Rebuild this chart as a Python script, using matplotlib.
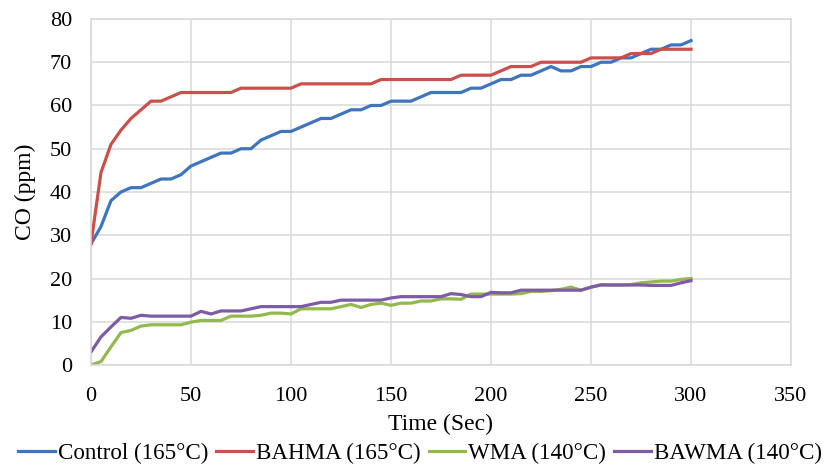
import matplotlib

matplotlib.use("Agg")
import matplotlib.pyplot as plt
import numpy as np

plt.rcParams["font.family"] = ["Liberation Serif", "DejaVu Serif"]

# Time (s), sampled every 5 s
TIME = list(range(0, 305, 5))

CONTROL = [28, 32, 38, 40, 41, 41, 42, 43, 43, 44, 46, 47, 48, 49, 49, 50, 50, 52, 53, 54,
           54, 55, 56, 57, 57, 58, 59, 59, 60, 60, 61, 61, 61, 62, 63, 63, 63, 63, 64, 64,
           65, 66, 66, 67, 67, 68, 69, 68, 68, 69, 69, 70, 70, 71, 71, 72, 73, 73, 74, 74, 75]
BAHMA = [28, 44.5, 51, 54.3, 57, 59, 61, 61, 62, 63, 63, 63, 63, 63, 63, 64, 64, 64, 64, 64,
         64, 65, 65, 65, 65, 65, 65, 65, 65, 66, 66, 66, 66, 66, 66, 66, 66, 67, 67, 67,
         67, 68, 69, 69, 69, 70, 70, 70, 70, 70, 71, 71, 71, 71, 72, 72, 72, 73, 73, 73, 73]
WMA = [0, 0.8, 4.2, 7.5, 8, 9, 9.3, 9.3, 9.3, 9.3, 9.9, 10.3, 10.3, 10.3, 11.3, 11.3, 11.3, 11.5, 12, 12,
       11.8, 13, 13, 13, 13, 13.5, 14, 13.3, 14, 14.3, 13.8, 14.3, 14.3, 14.8, 14.8, 15.3, 15.3, 15.2, 16.4, 16.4,
       16.4, 16.4, 16.4, 16.5, 17, 17, 17.2, 17.5, 18, 17.3, 18, 18.6, 18.5, 18.5, 18.6, 19, 19.2, 19.4, 19.4, 19.8, 20]
BAWMA = [3, 6.5, 8.8, 11, 10.8, 11.5, 11.3, 11.3, 11.3, 11.3, 11.3, 12.4, 11.8, 12.5, 12.5, 12.5, 13, 13.5, 13.5, 13.5,
         13.5, 13.5, 14, 14.5, 14.5, 15, 15, 15, 15, 15, 15.5, 15.8, 15.8, 15.8, 15.8, 15.8, 16.5, 16.3, 15.8, 15.8,
         16.8, 16.7, 16.7, 17.3, 17.3, 17.3, 17.3, 17.3, 17.3, 17.3, 18, 18.5, 18.5, 18.5, 18.5, 18.5, 18.4, 18.4, 18.4, 19, 19.5]

SERIES = [
    ("Control (165°C)", CONTROL, "#3E75BE"),
    ("BAHMA (165°C)", BAHMA, "#C9504B"),
    ("WMA (140°C)", WMA, "#93B84E"),
    ("BAWMA (140°C)", BAWMA, "#7D5BA6"),
]

fig = plt.figure(figsize=(8.4, 4.66), dpi=100)
ax = fig.add_axes([0.1083, 0.2167, 0.8334, 0.7426])

for label, values, color in SERIES:
    ax.plot(TIME, values, color=color, lw=2.3, label=label, solid_joinstyle="round")

ax.set_xlim(0, 350)
ax.set_ylim(0, 80)
ax.set_xticks(np.arange(0, 351, 50))
ax.set_yticks(np.arange(0, 81, 10))
ax.grid(True, color="#d9d9d9", lw=1.1)
ax.set_axisbelow(True)
for spine in ax.spines.values():
    spine.set_color("#d9d9d9")
    spine.set_linewidth(1.1)
ax.tick_params(length=0, labelsize=16, pad=15.5)
ax.tick_params(axis="y", pad=13.5)
ax.set_xlabel("Time (Sec)", fontsize=17, labelpad=6)
ax.set_ylabel("CO (ppm)", fontsize=17, labelpad=10)

fig.legend(loc="lower center", bbox_to_anchor=(0.5, 0.0), ncol=4, frameon=False,
           fontsize=16.6, handlelength=1.6, handletextpad=0.12, columnspacing=0.35,
           borderaxespad=0, borderpad=0.1)

fig.savefig("out.png", dpi=100)
